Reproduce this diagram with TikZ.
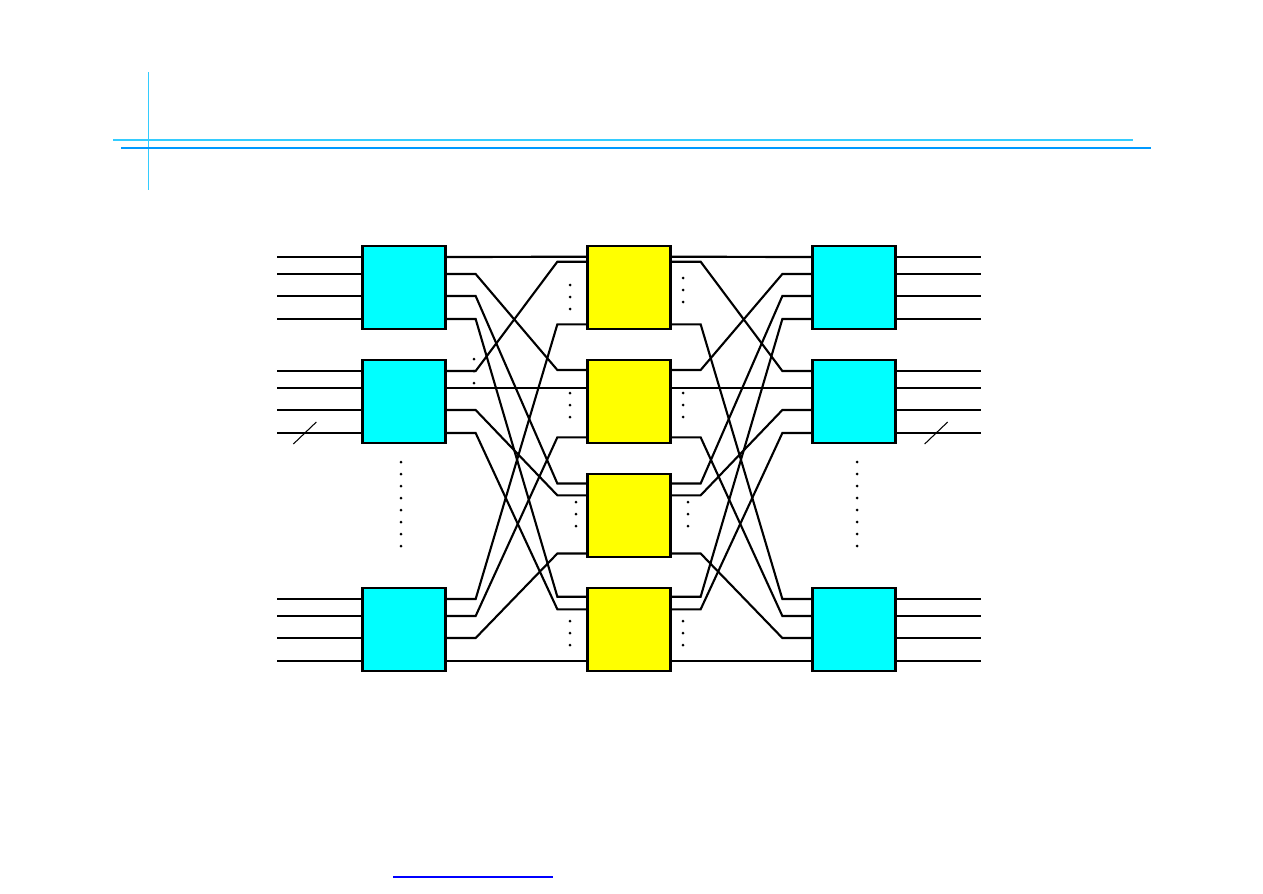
\documentclass[tikz,border=0pt]{standalone}
\usetikzlibrary{calc}
\definecolor{aqua}{RGB}{0,255,255}
\definecolor{lemon}{RGB}{255,255,0}
\definecolor{skyline}{RGB}{51,204,255}
\definecolor{rulerblue}{RGB}{0,153,255}
\definecolor{linkblue}{RGB}{0,0,255}

\begin{document}
\begin{tikzpicture}[x=0.02cm, y=-0.02cm,
  stage/.style={draw, line width=1.6pt, minimum width=1.65cm, minimum height=1.66cm, inner sep=0pt},
  outerstage/.style={stage, fill=aqua},
  midstage/.style={stage, fill=lemon},
  wire/.style={line width=1.2pt},
  dotmark/.style={fill=black}]
\useasboundingbox (0,0) rectangle (1263,893);

% page rules
\draw[skyline, line width=0.4pt] (148,72) -- (148,190);
\draw[skyline, line width=1.6pt] (113,140) -- (1133,140);
\draw[rulerblue, line width=0.8pt] (121,148) -- (1151,148);
\draw[linkblue, line width=1.2pt] (393,877) -- (553,877);

% switches
\foreach \i/\y in {1/287.5, 2/401.5, 3/629.5} {
  \node[outerstage] (L\i) at (404,\y) {};
  \node[outerstage] (R\i) at (854,\y) {};
}
\foreach \j/\y in {1/287.5, 2/401.5, 3/515.5, 4/629.5}
  \node[midstage] (M\j) at (629,\y) {};

% ports
\foreach \i in {1,2,3}
  \foreach \k/\d in {1/-30.5, 2/-13.5, 3/8.5, 4/31.5} {
    \coordinate (L\i i\k) at ($(L\i.west)+(0,\d)$);
    \coordinate (L\i o\k) at ($(L\i.east)+(0,\d)$);
    \coordinate (R\i i\k) at ($(R\i.west)+(0,\d)$);
    \coordinate (R\i o\k) at ($(R\i.east)+(0,\d)$);
  }
\foreach \j/\a/\b/\c in {1/-30.8/-25.8/36.8, 2/-31.5/-13.5/35.8, 3/-32/-20.2/38, 4/-32.8/-20.2/31.5} {
  \coordinate (M\j i1) at ($(M\j.west)+(0,\a)$);
  \coordinate (M\j i2) at ($(M\j.west)+(0,\b)$);
  \coordinate (M\j i3) at ($(M\j.west)+(0,\c)$);
  \coordinate (M\j o1) at ($(M\j.east)+(0,\a)$);
  \coordinate (M\j o2) at ($(M\j.east)+(0,\b)$);
  \coordinate (M\j o3) at ($(M\j.east)+(0,\c)$);
}

% inputs and outputs
\foreach \i in {1,2,3}
  \foreach \k in {1,...,4} {
    \draw[wire] (L\i i\k) -- ++(-84,0);
    \draw[wire] (R\i o\k) -- ++(84,0);
  }

% interstage links
\foreach \i in {1,2,3}
  \foreach \j in {1,...,4} {
    \draw[wire] (L\i o\j) -- ++(29,0) -- ($(M\j i\i)+(-29,0)$) -- (M\j i\i);
    \draw[wire] (M\j o\i) -- ++(29,0) -- ($(R\i i\j)+(-29,0)$) -- (R\i i\j);
  }

% dots
\foreach \x/\y in {570/285, 570/297, 570/309, 683/278, 683/290, 683/302,
                   570/393, 570/405, 570/417, 683/393, 683/405, 683/417,
                   576/502, 576/514, 576/526, 688/502, 688/514, 688/526,
                   570/621, 570/633, 570/645, 683/621, 683/633, 683/645,
                   474/359, 474/371, 474/383}
  \fill[dotmark] (\x,\y) circle (1.5);
\foreach \n in {0,...,7} {
  \fill[dotmark] (401,462+12*\n) circle (1.5);
  \fill[dotmark] (857,462+12*\n) circle (1.5);
}

% bundle marks
\draw[line width=0.6pt] ($(L2i4)+(-68,11)$) -- ++(23,-22);
\draw[line width=0.6pt] ($(R2o4)+(28,11)$) -- ++(23,-22);
\end{tikzpicture}
\end{document}
